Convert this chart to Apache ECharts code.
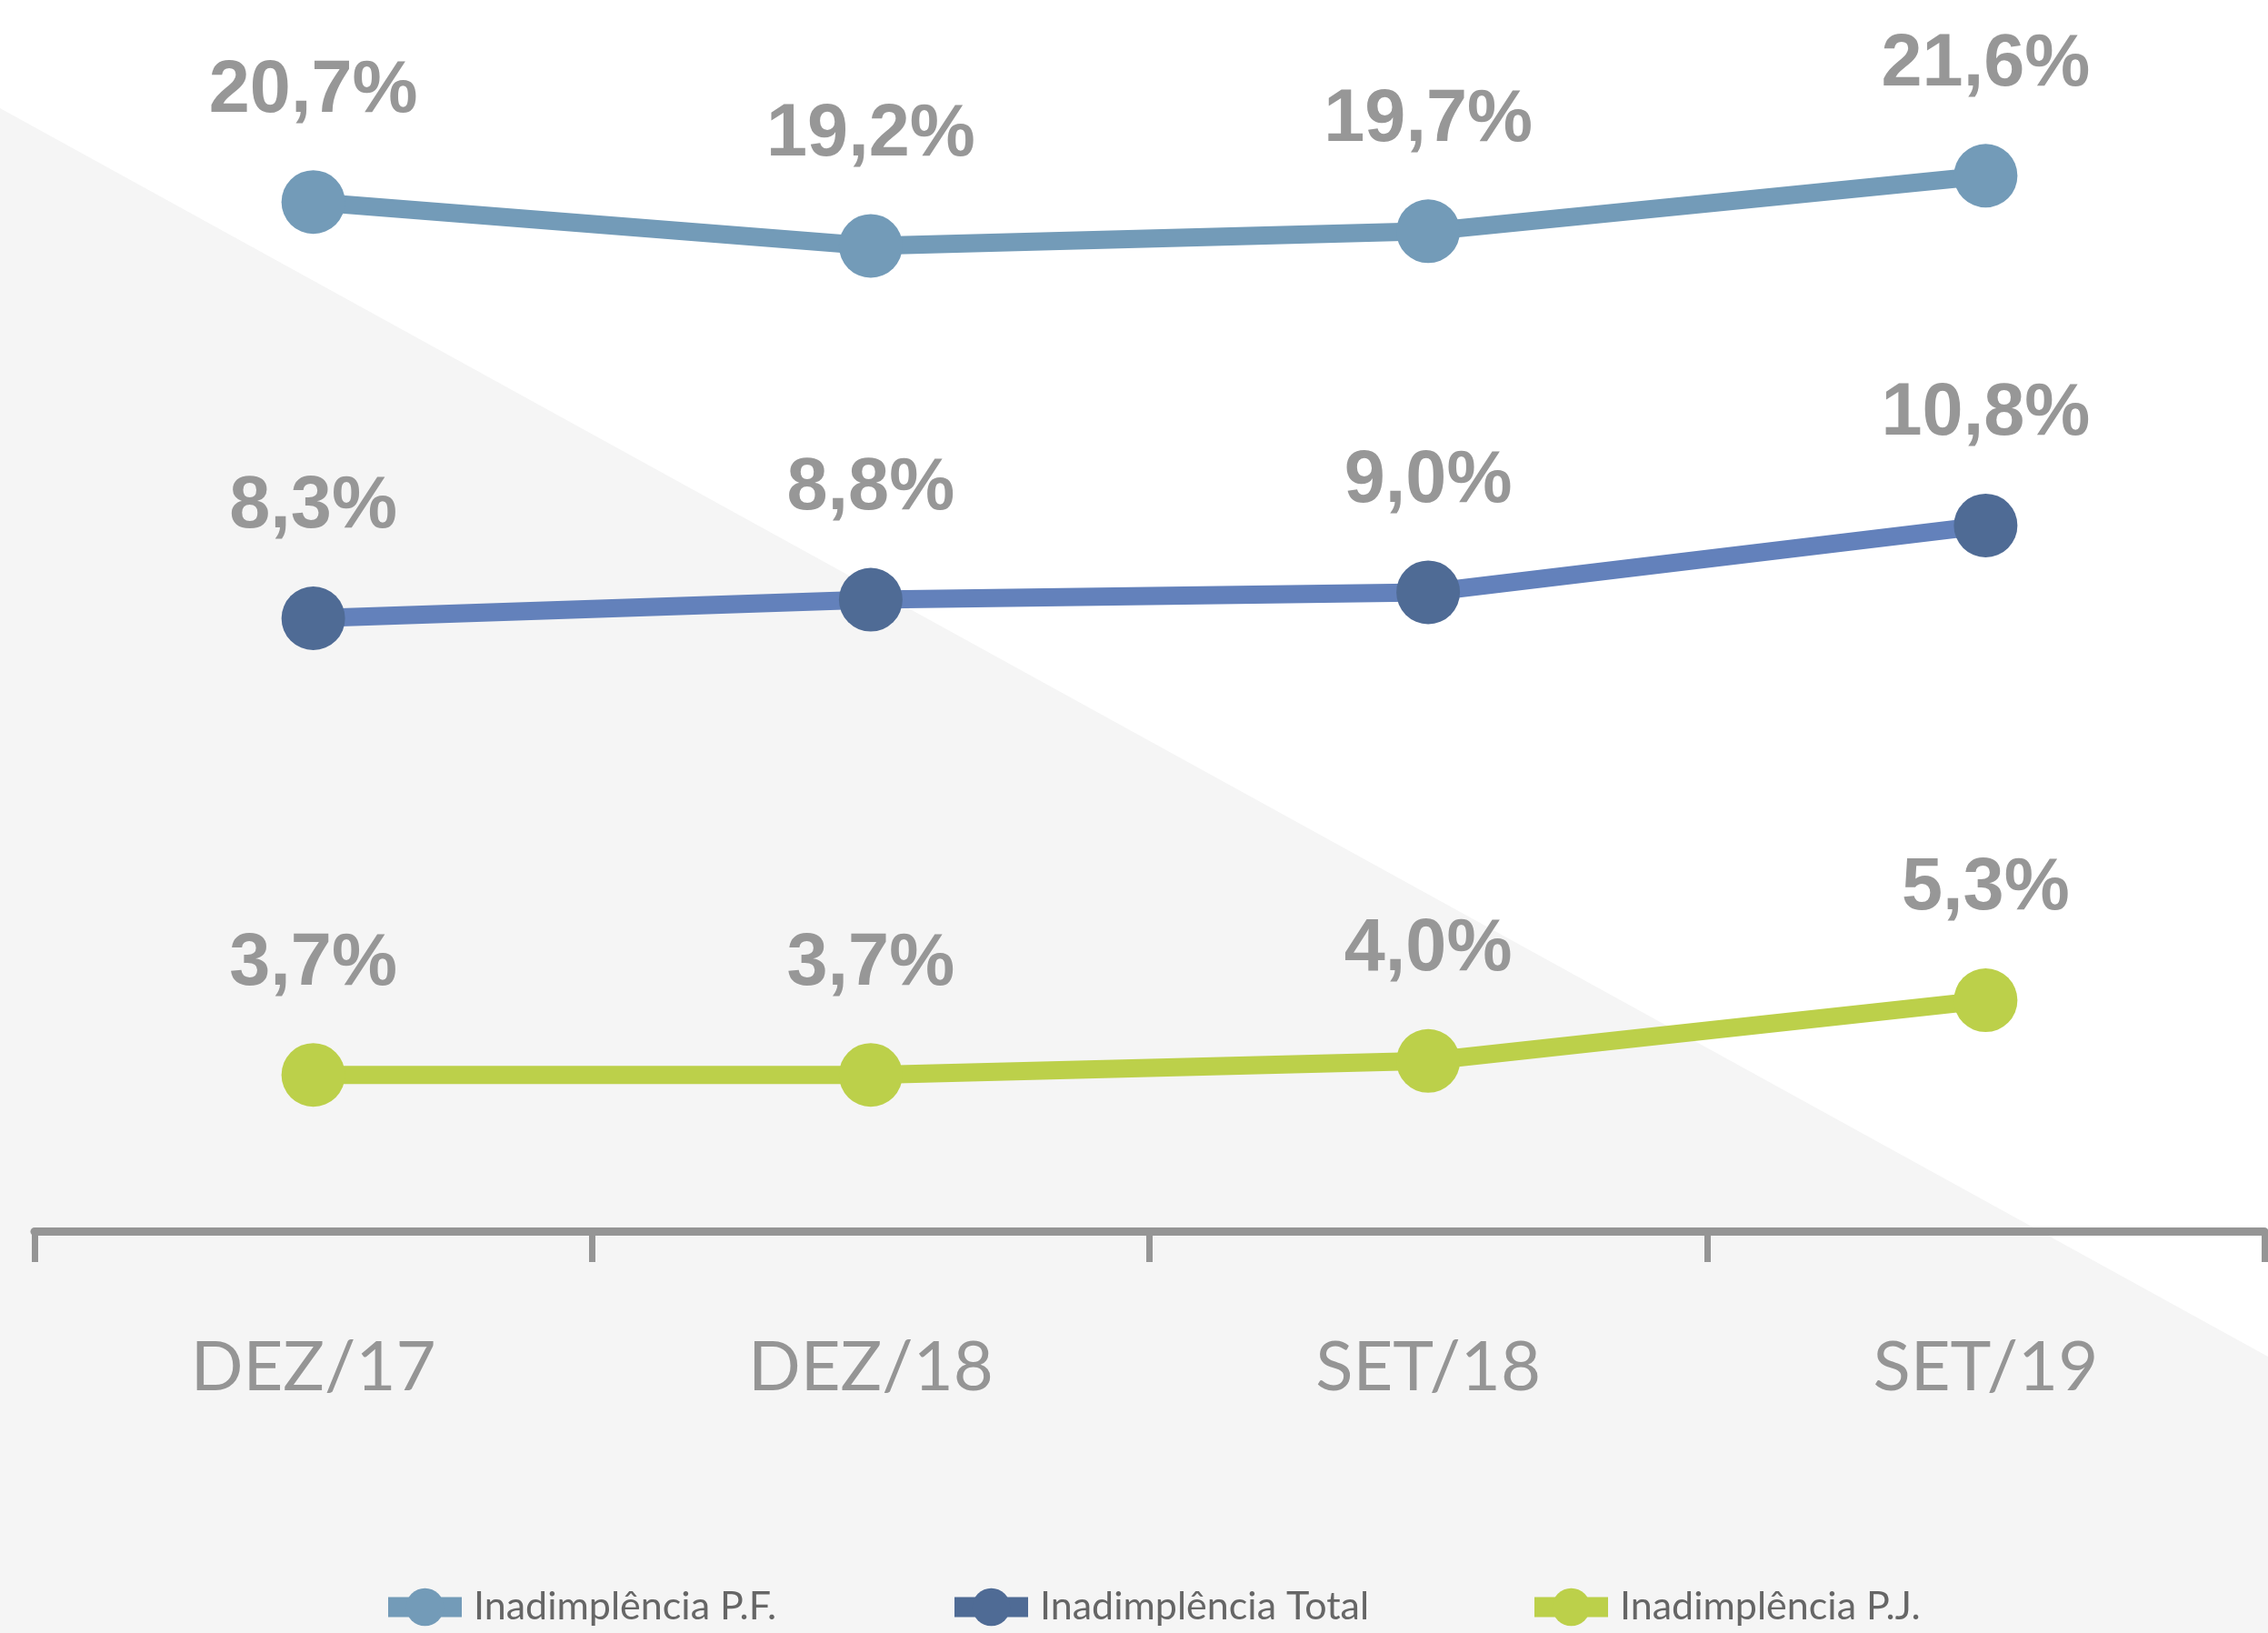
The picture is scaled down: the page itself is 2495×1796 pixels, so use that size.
<!DOCTYPE html>
<html>
<head>
<meta charset="utf-8">
<script src="https://cdn.jsdelivr.net/npm/echarts@6/dist/echarts.min.js"></script>
<style>
	html, body { margin: 0; padding: 0; background: #ffffff; }
	#chart { width: 2495px; height: 1796px; }
</style>
</head>
<body>
<div id="chart"></div>
<script>
const categories = ['DEZ/17', 'DEZ/18', 'SET/18', 'SET/19']
const seriesNames = ['Inadimplência P.F.', 'Inadimplência Total', 'Inadimplência P.J.']
const pfValues = [20.7, 19.2, 19.7, 21.6]
const totalValues = [8.3, 8.8, 9.0, 10.8]
const pjValues = [3.7, 3.7, 4.0, 5.3]

const labelColor = '#979797'

const fmt = (p) => p.value.toFixed(1).replace('.', ',') + '%'

const chart = echarts.init(document.getElementById('chart'))

// each series lives on its own hidden value axis so the three bands stack like the infographic
const makeSeries = (name, data, axisIndex, lineColor, dotColor) => ({
	name: name,
	type: 'line',
	data: data,
	yAxisIndex: axisIndex,
	symbol: 'circle',
	symbolSize: 70,
	showSymbol: true,
	lineStyle: { color: lineColor, width: 20 },
	itemStyle: { color: dotColor },
	label: {
		show: true,
		position: 'top',
		distance: 46,
		formatter: fmt,
		color: labelColor,
		fontFamily: 'Liberation Sans',
		fontWeight: 'bold',
		fontSize: 81,
		lineHeight: 82
	}
})

const makeLegend = (name, left, color) => ({
	data: [{ name: name, lineStyle: { color: color, width: 22 } }],
	left: left,
	top: 1741,
	itemWidth: 81,
	itemHeight: 52,
	selectedMode: false,
	lineStyle: { width: 22 },
	textStyle: {
		color: '#666666',
		fontFamily: 'Lato',
		fontSize: 43,
		padding: [0, 0, 0, 8]
	}
})

const option = {
	animation: false,
	backgroundColor: '#ffffff',
	graphic: [
		{
			type: 'polygon',
			z: -10,
			silent: true,
			shape: { points: [[0, 119], [2495, 1492], [2495, 1796], [0, 1796]] },
			style: { fill: '#f5f5f5' }
		}
	],
	legend: [
		makeLegend(seriesNames[0], 411, '#739bb8'),
		makeLegend(seriesNames[1], 1034, '#4f6b95'),
		makeLegend(seriesNames[2], 1672, '#bcd04a')
	],
	grid: {
		left: 38,
		right: 4,
		top: 100,
		bottom: 442
	},
	xAxis: {
		type: 'category',
		data: categories,
		boundaryGap: true,
		axisLine: { onZero: false, lineStyle: { color: '#959595', width: 9 } },
		axisTick: { show: true, length: 34, lineStyle: { color: '#959595', width: 7 } },
		axisLabel: {
			color: '#959595',
			fontFamily: 'Lato',
			fontSize: 76,
			margin: 112
		}
	},
	yAxis: [
		{ type: 'value', show: false, min: -14.5, max: 24.5, splitLine: { show: false } },
		{ type: 'value', show: false, min: -8.2, max: 22.5, splitLine: { show: false } },
		{ type: 'value', show: false, min: 0.35, max: 24.8, splitLine: { show: false } }
	],
	series: [
		makeSeries(seriesNames[0], pfValues, 0, '#739bb8', '#739bb8'),
		makeSeries(seriesNames[1], totalValues, 1, '#6381bb', '#4f6b95'),
		makeSeries(seriesNames[2], pjValues, 2, '#bcd04a', '#bcd04a')
	]
}

chart.setOption(option)
</script>
</body>
</html>
